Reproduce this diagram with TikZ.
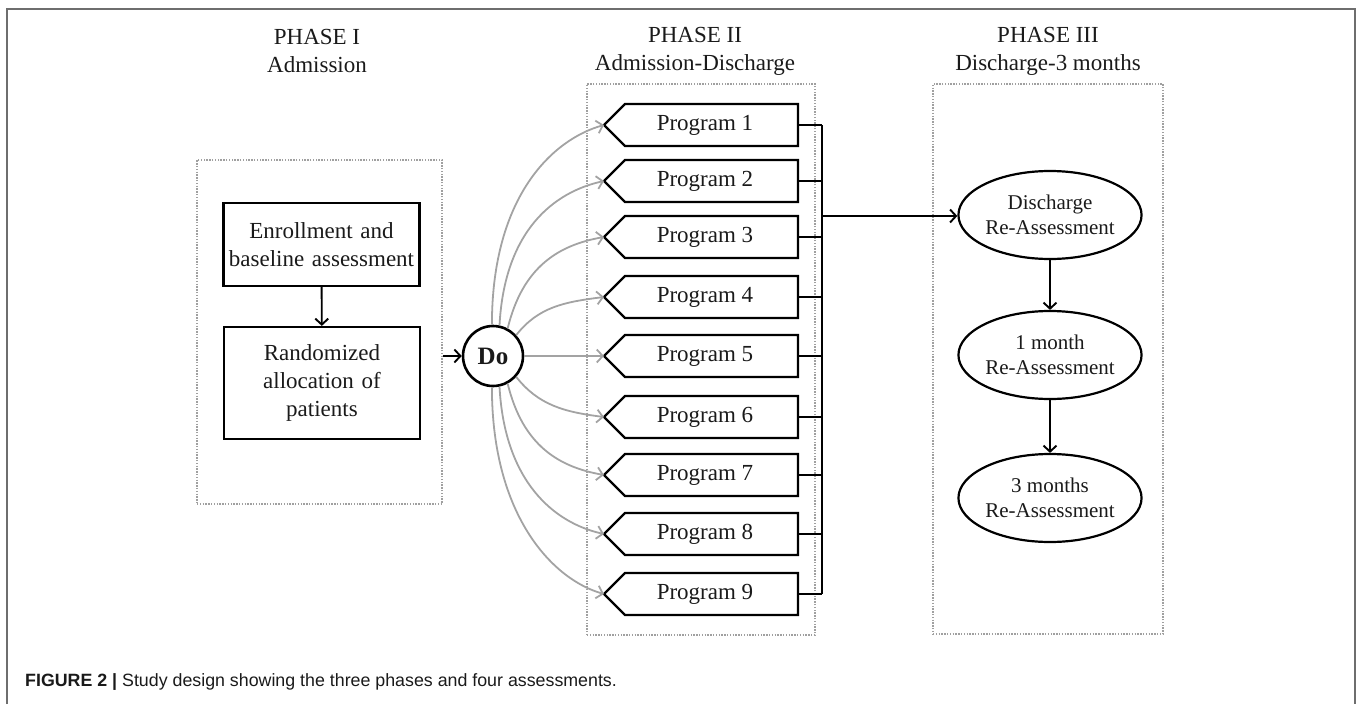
\documentclass[tikz,border=0pt]{standalone}
\usepackage{fontspec}
\setmainfont{Liberation Serif}
\newfontfamily\capfont{Liberation Sans}
\usetikzlibrary{arrows.meta,shapes.geometric,calc}
\definecolor{framegray}{HTML}{6E6E6E}
\definecolor{dotgray}{HTML}{A0A0A0}
\definecolor{curvegray}{HTML}{A3A3A3}
\definecolor{txt}{HTML}{1A1A1A}
\begin{document}
\begin{tikzpicture}[x=1pt,y=-1pt,
  titletext/.style={align=center, font=\fontsize{23}{28}\selectfont, text=txt, inner sep=0pt},
  stepbox/.style={draw=black, line width=2.2pt, align=center, inner sep=0pt, text=txt,
    font=\fontsize{23}{28}\selectfont, minimum width=196, text width=190},
  dotbox/.style={draw=dotgray, line width=1.4pt, dash pattern=on 1.4pt off 1.4pt, inner sep=0pt},
  progtext/.style={inner sep=0pt, font=\fontsize{23}{28}\selectfont, text=txt},
  progline/.style={draw=black, line width=2.2pt, line join=miter},
  assess/.style={ellipse, draw=black, line width=2.2pt, minimum width=181, minimum height=88,
    inner sep=0pt, align=center, font=\fontsize{21}{25}\selectfont, text=txt},
  barrow/.style={draw=black, line width=1.9pt, -{Straight Barb[length=6pt,width=13pt,line width=1.9pt]}},
  garrow/.style={draw=curvegray, line width=1.8pt, -{Straight Barb[length=6pt,width=13pt,line width=1.8pt]}},
  bline/.style={draw=black, line width=2.2pt}
]
\useasboundingbox (0,0) rectangle (1357,704);
% outer frame
\draw[framegray, line width=1.6pt] (7,704) -- (7,9) -- (1355,9) -- (1355,704);

% titles
\node[titletext] (tt1) at (317,51) {PHASE I\\Admission};
\node[titletext] (tt2) at (695,51) {PHASE II\\Admission-Discharge};
\node[titletext] (tt3) at (1048,51) {PHASE III\\Discharge-3 months};

% phase boxes
\node[dotbox, minimum width=245, minimum height=344] (ph1) at (319.5,332) {};
\node[dotbox, minimum width=228, minimum height=551] (ph2) at (701,359.5) {};
\node[dotbox, minimum width=230, minimum height=550] (ph3) at (1048,359) {};

% phase I
\node[stepbox, minimum height=83] (enr) at (321.5,244.5) {Enrollment and\\baseline assessment};
\node[stepbox, minimum height=112] (rnd) at (322,383) {Randomized\\allocation of\\patients};
\draw[barrow] (enr) -- (rnd);

% Do
\node[circle, draw=black, line width=2.6pt, minimum size=60, inner sep=0pt,
  font=\fontsize{25}{30}\selectfont\bfseries, text=txt] (do) at (493,356) {Do};
\draw[barrow] (ph1.east |- do) -- (do.west);

% programs
\foreach \i/\yy in {1/125,2/181,3/237,4/297,5/356,6/417,7/475,8/534,9/594}{
  \node[progtext] (p\i) at (705,\yy) {Program \i};
  \coordinate (t\i) at ($(p\i.center)+(-101,0)$);
  \coordinate (r\i) at ($(p\i.center)+(93,0)$);
  \draw[progline] ($(p\i.center)+(93,-21)$) -- ($(p\i.center)+(-80,-21)$) -- (t\i)
     -- ($(p\i.center)+(-80,21)$) -- ($(p\i.center)+(93,21)$) -- cycle;
}

% gray curves
\draw[garrow] (do.92) .. controls +(0,-130) and +(-50,14) .. (t1);
\draw[garrow] (do.78) .. controls +(5,-95) and +(-50,11) .. (t2);
\draw[garrow] (do.62) .. controls +(15,-62) and +(-45,8) .. (t3);
\draw[garrow] (do.42) .. controls +(22,-28) and +(-40,5) .. (t4);
\draw[garrow] (do.east) -- (t5);
\draw[garrow] (do.-42) .. controls +(22,28) and +(-40,-5) .. (t6);
\draw[garrow] (do.-62) .. controls +(15,62) and +(-45,-8) .. (t7);
\draw[garrow] (do.-78) .. controls +(5,95) and +(-50,-11) .. (t8);
\draw[garrow] (do.-92) .. controls +(0,130) and +(-50,-14) .. (t9);

% bus
\coordinate (bus) at (822,216);
\foreach \i in {1,...,9}{
  \draw[bline] (r\i) -- (r\i -| bus);
}
\draw[bline] (r1 -| bus) -- (r9 -| bus);

% phase III
\node[assess] (dis) at (1050,215) {Discharge\\Re-Assessment};
\node[assess] (m1) at (1050,355) {1 month\\Re-Assessment};
\node[assess] (m3) at (1050,498) {3 months\\Re-Assessment};
\draw[barrow] (bus) -- (bus -| dis.west);
\draw[barrow] (dis) -- (m1);
\draw[barrow] (m1) -- (m3);

% caption
\node[anchor=base west, inner sep=0pt, font=\capfont\fontsize{17.8}{20}\selectfont, text=txt] (cap) at (25,686)
  {\textbf{FIGURE 2 |} Study design showing the three phases and four assessments.};
\end{tikzpicture}
\end{document}
